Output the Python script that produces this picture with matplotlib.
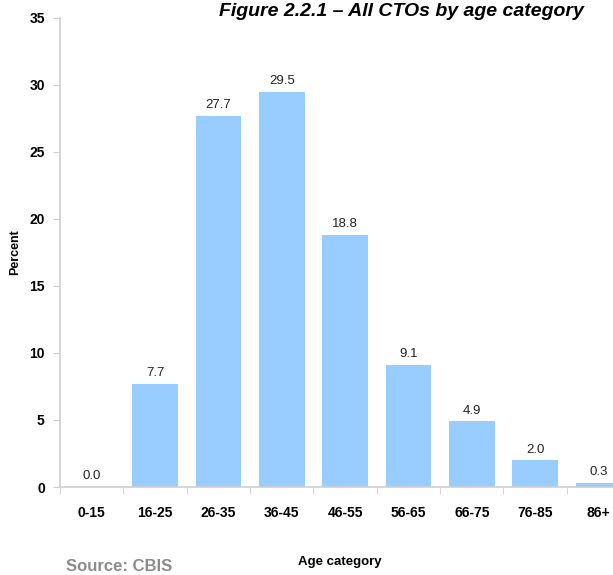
import numpy as np
import matplotlib
matplotlib.use('Agg')
import matplotlib.pyplot as plt

plt.rcParams['font.family'] = ['Liberation Sans', 'DejaVu Sans']

age_groups = ['0-15', '16-25', '26-35', '36-45', '46-55', '56-65', '66-75', '76-85', '86+']
percent = [0.0, 7.7, 27.7, 29.5, 18.8, 9.1, 4.9, 2.0, 0.3]

bar_color = '#99CCFF'
axis_grey = '#CFCFCF'

fig = plt.figure(figsize=(6.13, 5.75), dpi=100)
ax = fig.add_axes([0.098, 0.153, 0.93, 0.816])

x = np.arange(len(age_groups))
bars = ax.bar(x, percent, width=0.72, color=bar_color, zorder=2)

for xi, v in zip(x, percent):
    ax.text(xi, v + 0.35, f'{v:.1f}', ha='center', va='bottom',
            fontsize=9.5, color='#222222')

ax.set_xlim(-0.5, len(age_groups) - 0.5)
ax.set_ylim(0, 35)
ax.set_yticks(range(0, 36, 5))
ax.set_xticks(x)
ax.set_xticklabels(age_groups, fontweight='bold', fontsize=10)
ax.set_xticks(np.arange(-0.5, len(age_groups)), minor=True)
ax.tick_params(axis='x', which='major', length=0, pad=14)
ax.tick_params(axis='x', which='minor', length=5, color=axis_grey, direction='out')
ax.tick_params(axis='y', length=5, color=axis_grey, direction='out', pad=6)
for lab in ax.get_yticklabels():
    lab.set_fontweight('bold')
    lab.set_fontsize(10)

for side in ['top', 'right']:
    ax.spines[side].set_visible(False)
for side in ['left', 'bottom']:
    ax.spines[side].set_color(axis_grey)
    ax.spines[side].set_linewidth(1.2)

ax.set_ylabel('Percent', fontweight='bold', fontsize=9, labelpad=6)
fig.text(0.555, 0.012, 'Age category', ha='center', va='bottom',
         fontweight='bold', fontsize=9.5)
fig.text(0.108, 0.002, 'Source: CBIS', ha='left', va='bottom',
         fontweight='bold', fontsize=12, color='#8C8C8C')
fig.text(0.655, 0.994, 'Figure 2.2.1 \u2013 All CTOs by age category', ha='center', va='top',
         fontweight='bold', fontstyle='italic', fontsize=14)

fig.savefig('out.png', dpi=100)
